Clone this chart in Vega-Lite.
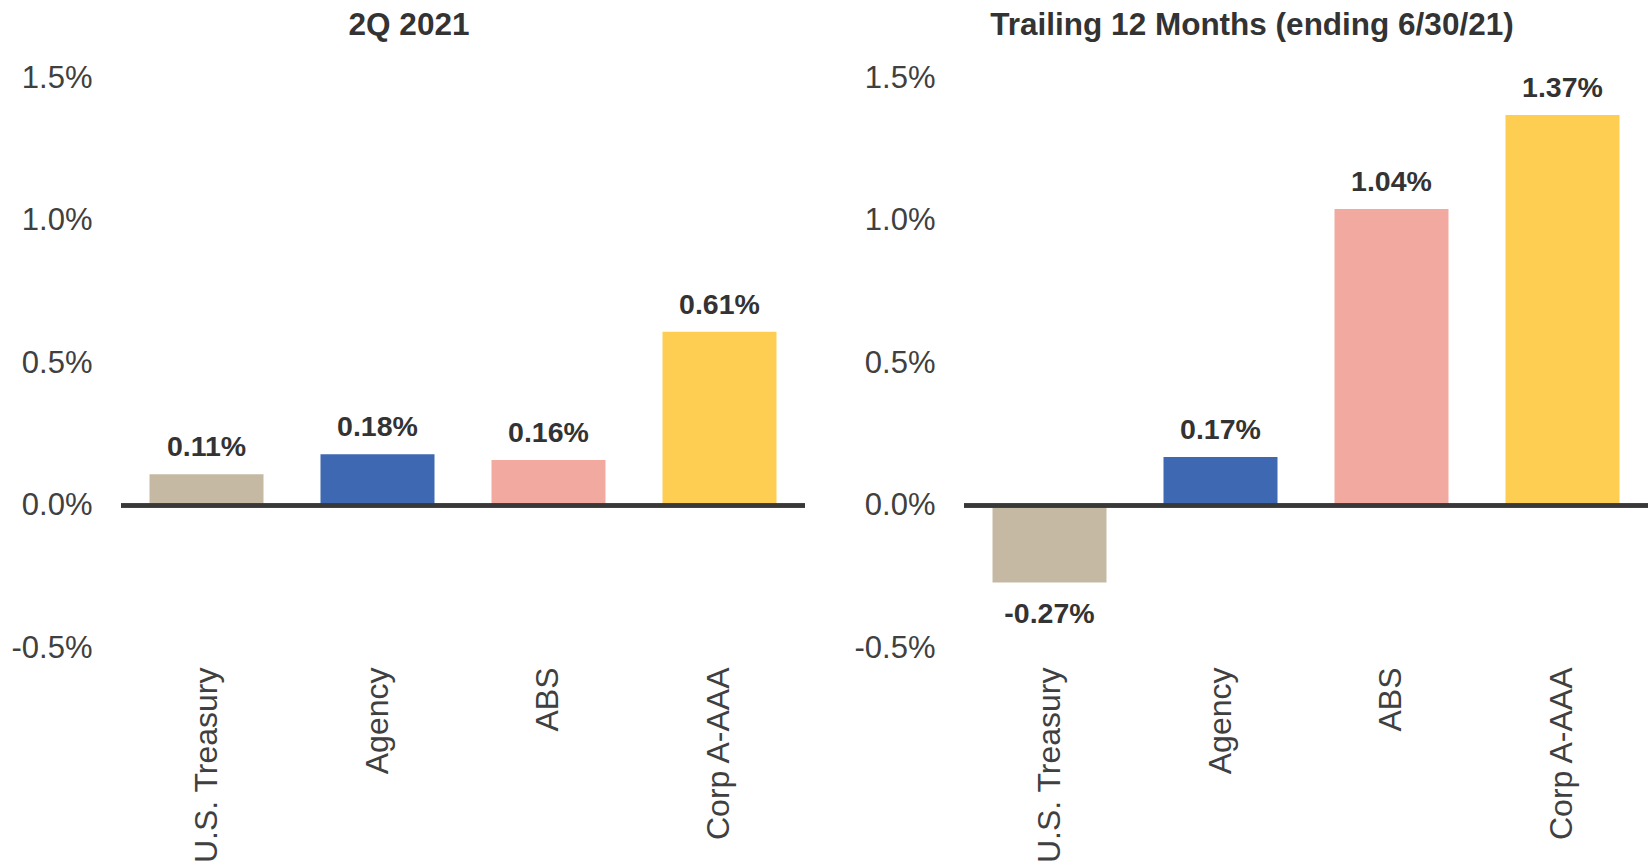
{
  "$schema": "https://vega.github.io/schema/vega-lite/v6.json",
  "padding": {"left": 11, "top": 9, "right": 4, "bottom": 0},
  "background": "white",
  "datasets": {
    "q2": [
      {"sector": "U.S. Treasury", "ret": 0.0011},
      {"sector": "Agency", "ret": 0.0018},
      {"sector": "ABS", "ret": 0.0016},
      {"sector": "Corp A-AAA", "ret": 0.0061}
    ],
    "ttm": [
      {"sector": "U.S. Treasury", "ret": -0.0027},
      {"sector": "Agency", "ret": 0.0017},
      {"sector": "ABS", "ret": 0.0104},
      {"sector": "Corp A-AAA", "ret": 0.0137}
    ]
  },
  "spacing": 47,
  "hconcat": [
    {
      "title": {"text": "2Q 2021"},
      "data": {"name": "q2"},
      "width": 684,
      "height": 570,
      "layer": [
        {
          "mark": {"type": "bar"},
          "encoding": {
            "x": {"field": "sector", "type": "nominal", "sort": ["U.S. Treasury", "Agency", "ABS", "Corp A-AAA"], "scale": {"paddingInner": 0.3333, "paddingOuter": 0.1667}, "axis": {"title": null}},
            "y": {"field": "ret", "type": "quantitative", "scale": {"domain": [-0.005, 0.015], "nice": false, "zero": false}, "axis": {"title": null, "values": [-0.005, 0, 0.005, 0.01, 0.015], "format": ".1%"}},
            "color": {"field": "sector", "type": "nominal", "scale": {"domain": ["U.S. Treasury", "Agency", "ABS", "Corp A-AAA"], "range": ["#C6B9A3", "#3E69B2", "#F2A9A0", "#FECE52"]}, "legend": null}
          }
        },
        {
          "transform": [{"filter": "datum.ret >= 0"}],
          "mark": {"type": "text", "fontWeight": "bold", "fontSize": 28.5, "color": "#333333", "baseline": "alphabetic", "dy": -18, "font": "Liberation Sans"},
          "encoding": {
            "x": {"field": "sector", "type": "nominal", "sort": ["U.S. Treasury", "Agency", "ABS", "Corp A-AAA"]},
            "y": {"field": "ret", "type": "quantitative"},
            "text": {"field": "ret", "type": "quantitative", "format": ".2%"}
          }
        },
        {
          "transform": [{"filter": "datum.ret < 0"}],
          "mark": {"type": "text", "fontWeight": "bold", "fontSize": 28.5, "color": "#333333", "baseline": "alphabetic", "dy": 41, "font": "Liberation Sans"},
          "encoding": {
            "x": {"field": "sector", "type": "nominal", "sort": ["U.S. Treasury", "Agency", "ABS", "Corp A-AAA"]},
            "y": {"field": "ret", "type": "quantitative"},
            "text": {"field": "ret", "type": "quantitative", "format": ".2%"}
          }
        },
        {
          "mark": {"type": "rule", "color": "#383838", "strokeWidth": 4},
          "encoding": {"y": {"datum": 0, "type": "quantitative"}}
        }
      ]
    },
    {
      "title": {"text": "Trailing 12 Months (ending 6/30/21)"},
      "data": {"name": "ttm"},
      "width": 684,
      "height": 570,
      "layer": [
        {
          "mark": {"type": "bar"},
          "encoding": {
            "x": {"field": "sector", "type": "nominal", "sort": ["U.S. Treasury", "Agency", "ABS", "Corp A-AAA"], "scale": {"paddingInner": 0.3333, "paddingOuter": 0.1667}, "axis": {"title": null}},
            "y": {"field": "ret", "type": "quantitative", "scale": {"domain": [-0.005, 0.015], "nice": false, "zero": false}, "axis": {"title": null, "values": [-0.005, 0, 0.005, 0.01, 0.015], "format": ".1%"}},
            "color": {"field": "sector", "type": "nominal", "scale": {"domain": ["U.S. Treasury", "Agency", "ABS", "Corp A-AAA"], "range": ["#C6B9A3", "#3E69B2", "#F2A9A0", "#FECE52"]}, "legend": null}
          }
        },
        {
          "transform": [{"filter": "datum.ret >= 0"}],
          "mark": {"type": "text", "fontWeight": "bold", "fontSize": 28.5, "color": "#333333", "baseline": "alphabetic", "dy": -18, "font": "Liberation Sans"},
          "encoding": {
            "x": {"field": "sector", "type": "nominal", "sort": ["U.S. Treasury", "Agency", "ABS", "Corp A-AAA"]},
            "y": {"field": "ret", "type": "quantitative"},
            "text": {"field": "ret", "type": "quantitative", "format": ".2%"}
          }
        },
        {
          "transform": [{"filter": "datum.ret < 0"}],
          "mark": {"type": "text", "fontWeight": "bold", "fontSize": 28.5, "color": "#333333", "baseline": "alphabetic", "dy": 41, "font": "Liberation Sans"},
          "encoding": {
            "x": {"field": "sector", "type": "nominal", "sort": ["U.S. Treasury", "Agency", "ABS", "Corp A-AAA"]},
            "y": {"field": "ret", "type": "quantitative"},
            "text": {"field": "ret", "type": "quantitative", "format": ".2%"}
          }
        },
        {
          "mark": {"type": "rule", "color": "#383838", "strokeWidth": 4},
          "encoding": {"y": {"datum": 0, "type": "quantitative"}}
        }
      ]
    }
  ],
  "resolve": {"scale": {"color": "independent"}},
  "config": {
    "locale": {"number": {"decimal": ".", "thousands": ",", "grouping": [3], "currency": ["$", ""], "minus": "-"}},
    "font": "Liberation Sans",
    "view": {"stroke": null},
    "title": {"fontSize": 31.5, "fontWeight": "bold", "color": "#333333", "font": "Liberation Sans", "anchor": "middle", "frame": "bounds", "offset": 21},
    "axis": {"grid": false, "ticks": false, "domain": false, "labelFont": "Liberation Sans", "labelFontSize": 31, "labelColor": "#404040", "labelLimit": 0},
    "axisY": {"labelPadding": 29},
    "axisX": {"labelAngle": -90, "labelPadding": 19, "labelFontSize": 32}
  }
}
